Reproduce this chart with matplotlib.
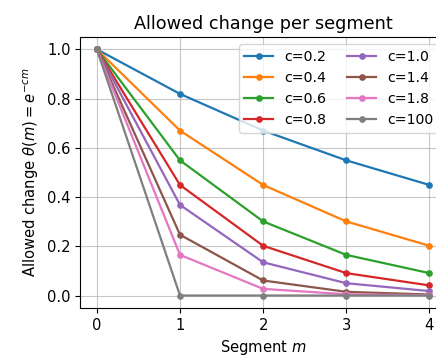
import numpy as np
import matplotlib.pyplot as plt

plt.rcParams['font.size'] = 10.6

segments = [0, 1, 2, 3, 4]
c_labels = ["c=0.2", "c=0.4", "c=0.6", "c=0.8", "c=1.0", "c=1.4", "c=1.8", "c=100"]

theta_c02 = [1.0, 0.819, 0.670, 0.549, 0.449]
theta_c04 = [1.0, 0.670, 0.449, 0.301, 0.202]
theta_c06 = [1.0, 0.549, 0.301, 0.165, 0.091]
theta_c08 = [1.0, 0.449, 0.202, 0.091, 0.041]
theta_c10 = [1.0, 0.368, 0.135, 0.050, 0.018]
theta_c14 = [1.0, 0.247, 0.061, 0.015, 0.004]
theta_c18 = [1.0, 0.165, 0.027, 0.005, 0.001]
theta_c100 = [1.0, 0.0, 0.0, 0.0, 0.0]

series = [theta_c02, theta_c04, theta_c06, theta_c08,
          theta_c10, theta_c14, theta_c18, theta_c100]

fig = plt.figure(figsize=(4.36, 3.63), dpi=100)
ax = fig.add_axes([0.184, 0.152, 0.839, 0.746])
for label, vals in zip(c_labels, series):
    ax.plot(segments, vals, marker='o', markersize=3.8, linewidth=1.6, label=label)

ax.set_title("Allowed change per segment")
ax.set_xlabel("Segment $m$")
ax.set_ylabel(r"Allowed change $\theta(m) = e^{-cm}$")
ax.set_xticks(segments)
ax.grid(True, alpha=0.7)
ax.legend(ncol=2, loc='upper right', fontsize=10.2, handlelength=2,
          columnspacing=1.5)

fig.savefig("out.png", dpi=100)
